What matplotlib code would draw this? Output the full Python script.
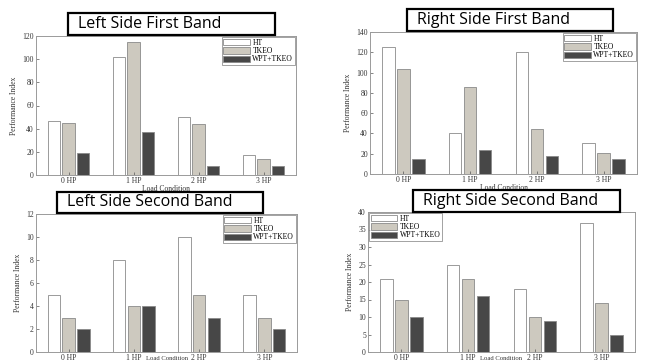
import matplotlib
matplotlib.use("Agg")
import matplotlib.pyplot as plt
import numpy as np
from matplotlib.patches import Rectangle

loads = ["0 HP", "1 HP", "2 HP", "3 HP"]
methods = ["HT", "TKEO", "WPT+TKEO"]

left_first_ht = [47, 102, 50, 17]
left_first_tkeo = [45, 115, 44, 14]
left_first_wpt = [19, 37, 8, 8]

right_first_ht = [125, 40, 120, 31]
right_first_tkeo = [104, 86, 44, 21]
right_first_wpt = [15, 24, 18, 15]

left_second_ht = [5, 8, 10, 5]
left_second_tkeo = [3, 4, 5, 3]
left_second_wpt = [2, 4, 3, 2]

right_second_ht = [21, 25, 18, 37]
right_second_tkeo = [15, 21, 10, 14]
right_second_wpt = [10, 16, 9, 5]

titles = ["Left Side First Band", "Right Side First Band",
          "Left Side Second Band", "Right Side Second Band"]

bar_colors = ["#ffffff", "#cdc9bf", "#474747"]
edge_color = "#8a8a8a"
serif = ["Liberation Serif", "DejaVu Serif"]

W, H = 645, 361
fig = plt.figure(figsize=(W / 100, H / 100), dpi=100)
fig.patch.set_facecolor("white")


def px_axes(x0, y0, x1, y1):
    return fig.add_axes([x0 / W, 1 - y1 / H, (x1 - x0) / W, (y1 - y0) / H])


def title_box(x0, y0, x1, y1, text):
    fig.patches.append(Rectangle((x0 / W, 1 - y1 / H), (x1 - x0) / W, (y1 - y0) / H,
                                 transform=fig.transFigure, facecolor="white",
                                 edgecolor="black", linewidth=1.6, zorder=5))
    fig.text((x0 + 10) / W, 1 - (y0 + y1) / 2 / H, text, ha="left", va="center",
             fontsize=11.5, family=["Open Sans", "DejaVu Sans"], zorder=6)


panels = [
    dict(rect=(36, 36, 296, 175), series=(left_first_ht, left_first_tkeo, left_first_wpt),
         ymax=120, step=20, legend="upper right", box=(68, 13, 275, 35), bottom=False),
    dict(rect=(370, 32, 637, 174), series=(right_first_ht, right_first_tkeo, right_first_wpt),
         ymax=140, step=20, legend="upper right", box=(407, 9, 613, 31), bottom=False),
    dict(rect=(36, 214, 297, 352), series=(left_second_ht, left_second_tkeo, left_second_wpt),
         ymax=12, step=2, legend="upper right", box=(57, 192, 263, 213), bottom=True),
    dict(rect=(368, 212, 635, 352), series=(right_second_ht, right_second_tkeo, right_second_wpt),
         ymax=40, step=5, legend="upper left", box=(413, 190, 620, 212), bottom=True),
]

x = np.arange(1, len(loads) + 1)
offsets = [-0.225, 0.0, 0.225]
width = 0.19

for p, title in zip(panels, titles):
    ax = px_axes(*p["rect"])
    for vals, off, col, name in zip(p["series"], offsets, bar_colors, methods):
        ax.bar(x + off, vals, width=width, color=col, edgecolor=edge_color,
               linewidth=0.6, label=name)
    ax.set_xlim(0.5, 4.5)
    ax.set_ylim(0, p["ymax"])
    ax.set_yticks(np.arange(0, p["ymax"] + 1, p["step"]))
    ax.set_xticks(x)
    ax.set_xticklabels(loads)
    ax.tick_params(direction="in", length=2, width=0.5, colors="#555555",
                   labelsize=5.5, pad=1.5)
    for lab in ax.get_xticklabels() + ax.get_yticklabels():
        lab.set_family(serif)
        lab.set_color("#333333")
    for s in ax.spines.values():
        s.set_color("#9a9a9a")
        s.set_linewidth(0.7)
    ax.set_ylabel("Performance Index", fontsize=5.5, family=serif, color="#333333",
                  labelpad=3)
    if p["bottom"]:
        # the lower row sits close to the figure edge: tuck the label in the gap
        x0, _, x1, _ = p["rect"]
        fig.text((x0 + x1) / 2 / W, 0.3 / H, "Load Condition", ha="center", va="bottom",
                 fontsize=4.8, family=serif, color="#333333")
    else:
        ax.set_xlabel("Load Condition", fontsize=5.5, family=serif, color="#333333",
                      labelpad=0)
    leg = ax.legend(loc=p["legend"], prop={"family": serif, "size": 5.5},
                    frameon=True, fancybox=False, borderaxespad=0.15,
                    handlelength=3.5, handleheight=0.9, labelspacing=0.05,
                    borderpad=0.2, handletextpad=0.3)
    leg.get_frame().set_edgecolor("#777777")
    leg.get_frame().set_linewidth(0.6)
    title_box(*p["box"], title)

fig.savefig("out.png", dpi=100, facecolor="white")
